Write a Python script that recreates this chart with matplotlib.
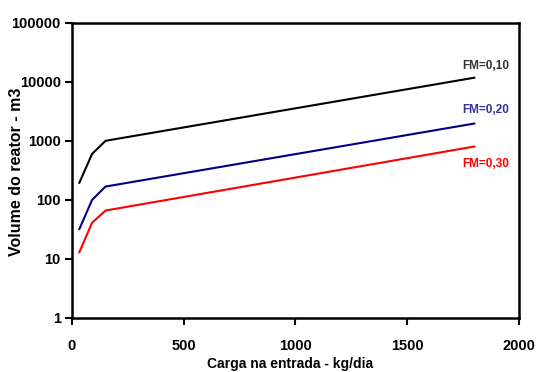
import matplotlib.pyplot as plt

plt.rcParams['font.family'] = ['Liberation Sans', 'DejaVu Sans']

# carga na entrada (kg/dia) e volume do reator (m3) para cada FM
carga = [33, 90, 150, 1800]
vol_fm10 = [195, 600, 1000, 11700]
vol_fm20 = [32, 100, 168, 1960]
vol_fm30 = [13, 41, 66, 800]

rotulos = ["FM=0,10", "FM=0,20", "FM=0,30"]
cores = ["black", "#000080", "red"]
cores_txt = ["#333333", "#333399", "red"]

fig = plt.figure(figsize=(5.38, 3.72), dpi=100)
ax = fig.add_axes([0.1338, 0.1452, 0.8309, 0.7938])

for v, c in zip([vol_fm10, vol_fm20, vol_fm30], cores):
    ax.plot(carga, v, color=c, linewidth=1.5)

ax.set_yscale("log")
ax.set_xlim(0, 2000)
ax.set_ylim(1, 100000)
ax.set_xticks([0, 500, 1000, 1500, 2000])
ax.set_yticks([1, 10, 100, 1000, 10000, 100000])
ax.set_yticklabels(["1", "10", "100", "1000", "10000", "100000"])
ax.minorticks_off()

ax.tick_params(direction="out", length=5, width=1.5, labelsize=10.5)
ax.tick_params(axis="x", pad=10)
ax.tick_params(axis="y", pad=3)
for lab in ax.get_xticklabels() + ax.get_yticklabels():
    lab.set_fontweight("bold")
for s in ax.spines.values():
    s.set_linewidth(1.8)

ax.set_xlabel("Carga na entrada - kg/dia", fontsize=10, fontweight="bold")
ax.set_ylabel("Volume do reator - m3", fontsize=11.5, fontweight="bold")
ax.xaxis.set_label_coords(0.487, -0.133)
ax.yaxis.set_label_coords(-0.107, 0.495)

# rótulos das curvas
ax.text(1745, 18600, rotulos[0], color=cores_txt[0], fontsize=8.5, fontweight="bold", va="center")
ax.text(1745, 3350, rotulos[1], color=cores_txt[1], fontsize=8.5, fontweight="bold", va="center")
ax.text(1745, 407, rotulos[2], color=cores_txt[2], fontsize=8.5, fontweight="bold", va="center")

fig.savefig("out.png", dpi=100)
